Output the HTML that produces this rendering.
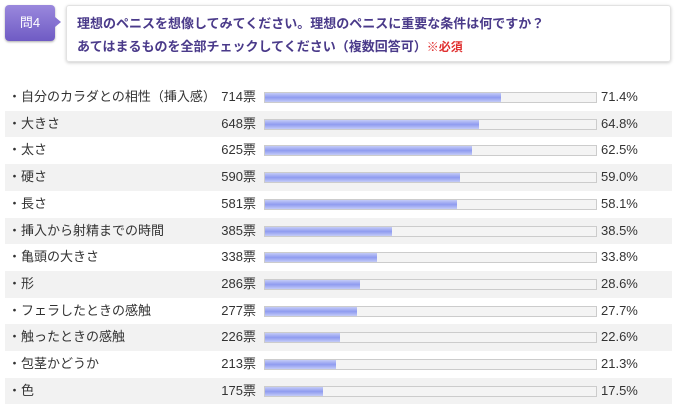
<!DOCTYPE html>
<html><head><meta charset="utf-8"><style>
body{margin:0;width:682px;height:416px;background:#fff;font-family:"Liberation Sans","Noto Sans CJK JP",sans-serif;position:relative;overflow:hidden}
.badge{position:absolute;left:5px;top:5px;width:50px;height:36px;border-radius:4px;background:linear-gradient(#9a88dd,#6f5bc4);color:#fff;font-size:13px;text-align:center;line-height:36px;box-shadow:0 1px 2px #aaa}
.badge:after{content:"";position:absolute;right:-6px;top:12px;border-left:6px solid #8673d2;border-top:5px solid transparent;border-bottom:5px solid transparent}
.box{position:absolute;left:66px;top:5px;width:605px;height:57px;border:1px solid #e2e2e2;border-radius:3px;box-shadow:0 1px 3px #ccc;color:#4a3a8a;font-size:13px;font-weight:bold;line-height:23px;padding:6px 0 0 10px;box-sizing:border-box}
.box span{color:#e03030;font-size:12px}
.row{position:absolute;left:5px;width:667px;height:26.7px;font-size:13px;color:#333;line-height:26px}
.row.g{background:#f2f2f2}
.l{position:absolute;left:3px;top:0}
.v{position:absolute;right:416px;top:0}
.t{position:absolute;left:259px;top:8px;width:331px;height:9px;border:1px solid #ccc;background:#f4f4f4}
.f{height:100%;background:linear-gradient(#c4cbf7,#8f9bf0 50%,#c4cbf7)}
.p{position:absolute;left:596px;top:0}
</style></head><body>
<div class="badge">問4</div>
<div class="box">理想のペニスを想像してみてください。理想のペニスに重要な条件は何ですか？<br>あてはまるものを全部チェックしてください（複数回答可）<span>※必須</span></div>
<div id="rows"></div>
<script>
var d=[["自分のカラダとの相性（挿入感）",714],["大きさ",648],["太さ",625],["硬さ",590],["長さ",581],["挿入から射精までの時間",385],["亀頭の大きさ",338],["形",286],["フェラしたときの感触",277],["触ったときの感触",226],["包茎かどうか",213],["色",175]];
var h="";d.forEach(function(r,i){var p=(r[1]/10).toFixed(1);h+='<div class="row'+(i%2?' g':'')+'" style="top:'+(84+i*26.7)+'px"><span class="l">・'+r[0]+'</span><span class="v">'+r[1]+'票</span><div class="t"><div class="f" style="width:'+p+'%"></div></div><span class="p">'+p+'%</span></div>'});
document.getElementById("rows").innerHTML=h;
</script>
</body></html>
